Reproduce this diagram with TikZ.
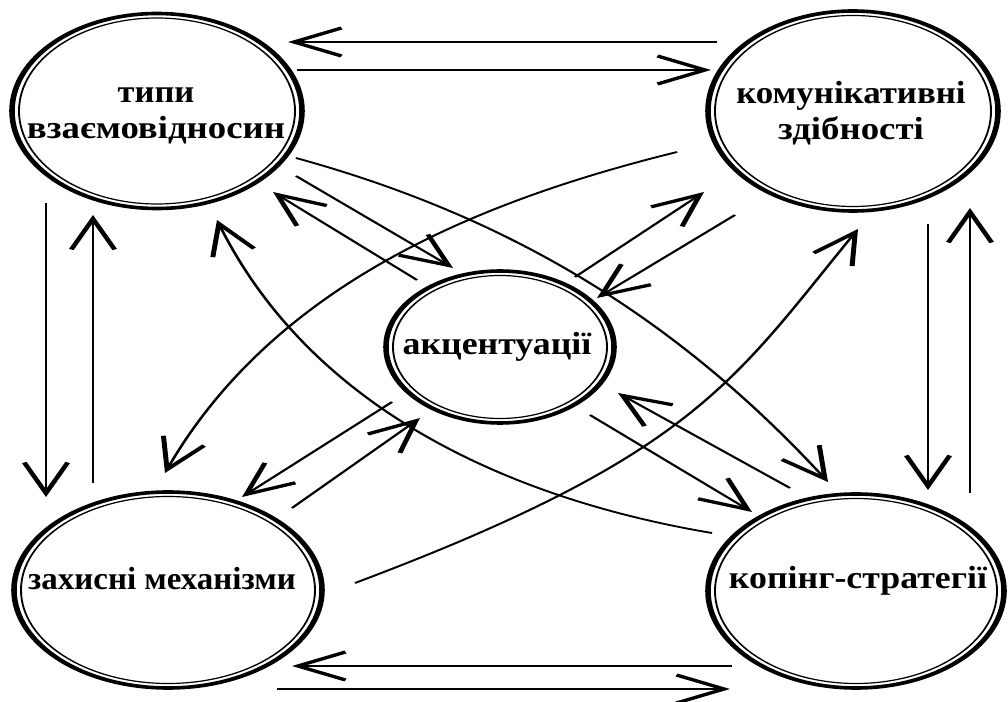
\documentclass[tikz,border=0pt]{standalone}
\usepackage{graphicx}
\usepackage{fontspec}
\setmainfont{Liberation Serif}
\usetikzlibrary{arrows.meta,shapes.geometric}
\newcommand\widetext[2]{\scalebox{#1}[1]{#2}}
\begin{document}
\begin{tikzpicture}[x=0.75pt,y=-0.75pt,
  lbl/.style={font=\bfseries\fontsize{24}{27}\selectfont, align=center, inner sep=0pt}]
\useasboundingbox (0,0) rectangle (1008,702);
\fill[white] (0,0) rectangle (1008,702);
\begin{scope}[transform canvas={xscale=1.55}, x={(0.48387pt,0pt)},
  oval/.style={ellipse, draw, line width=2.7pt, inner sep=0pt},
  innerring/.style={line width=0.9pt},
  conn/.style={line width=1.35pt, -{Straight Barb[length=23pt, width=21pt, line width=2.4pt, sharp]}}]
% ellipses
\node[oval, minimum width={2*145*0.48387pt}, minimum height={2*97.5*0.75pt}] (e1) at (157,111) {};
\node[oval, minimum width={2*145*0.48387pt}, minimum height={2*100*0.75pt}] (e2) at (853,111) {};
\node[oval, minimum width={2*114*0.48387pt}, minimum height={2*76*0.75pt}] (e3) at (500,347) {};
\node[oval, minimum width={2*154*0.48387pt}, minimum height={2*98*0.75pt}] (e4) at (168,590) {};
\node[oval, minimum width={2*148*0.48387pt}, minimum height={2*97*0.75pt}] (e5) at (856,591) {};
\draw[innerring] (e1.center) ellipse [x radius=138, y radius=93];
\draw[innerring] (e2.center) ellipse [x radius=138, y radius=95.5];
\draw[innerring] (e3.center) ellipse [x radius=107, y radius=71.5];
\draw[innerring] (e4.center) ellipse [x radius=147, y radius=93.5];
\draw[innerring] (e5.center) ellipse [x radius=141, y radius=92.5];
% connector ends
\coordinate (a1s) at (717,42);  \coordinate (a1e) at (288,42);
\coordinate (a2s) at (297,70);  \coordinate (a2e) at (711,70);
\coordinate (a3s) at (732,666); \coordinate (a3e) at (292,666);
\coordinate (a4s) at (277,689); \coordinate (a4e) at (730,689);
\coordinate (a5s) at (46,203);  \coordinate (a5e) at (46,497);
\coordinate (a6s) at (93,483);  \coordinate (a6e) at (93,215);
\coordinate (a7s) at (928,224); \coordinate (a7e) at (928,490);
\coordinate (a8s) at (970,493); \coordinate (a8e) at (970,208);
\coordinate (a9s) at (296,176); \coordinate (a9e) at (453,268);
\coordinate (a10s) at (417,280); \coordinate (a10e) at (273,192);
\coordinate (a11s) at (575,277); \coordinate (a11e) at (704,192);
\coordinate (a12s) at (735,215); \coordinate (a12e) at (597,298);
\coordinate (a13s) at (392,402); \coordinate (a13e) at (242,497);
\coordinate (a14s) at (292,508); \coordinate (a14e) at (420,418);
\coordinate (a15s) at (590,415); \coordinate (a15e) at (752,512);
\coordinate (a16s) at (790,488); \coordinate (a16e) at (618,393);
\coordinate (c1s) at (296,158); \coordinate (c1e) at (828,482);
\coordinate (c2s) at (712,533); \coordinate (c2e) at (217,220);
\coordinate (c3s) at (677,152); \coordinate (c3e) at (165,473);
\coordinate (c4s) at (355,583); \coordinate (c4e) at (858,229);
% straight connectors
\foreach \i in {1,...,16} { \draw[conn] (a\i s) -- (a\i e); }
% curved connectors
\draw[conn] (c1s) .. controls (500,214) and (670,311) .. (c1e);
\draw[conn] (c2s) .. controls (515,500) and (313,412) .. (c2e);
\draw[conn] (c3s) .. controls (478,201) and (274,285) .. (c3e);
\draw[conn] (c4s) .. controls (696,455) and (734,380) .. (c4e);
\end{scope}
% labels
\node[lbl] (t1) at (156,116) {\widetext{1.08}{типи}\\\widetext{1.15}{взаємовідносин}};
\node[lbl] (t2) at (851,113) {\widetext{1.09}{комунікативні}\\\widetext{1.15}{здібності}};
\node[lbl] (t3) at (497,347) {\widetext{1.12}{акцентуації}};
\node[lbl] (t4) at (162,579) {\widetext{1.03}{захисні механізми}};
\node[lbl] (t5) at (858,581) {\widetext{1.12}{копінг-стратегії}};
\end{tikzpicture}
\end{document}
